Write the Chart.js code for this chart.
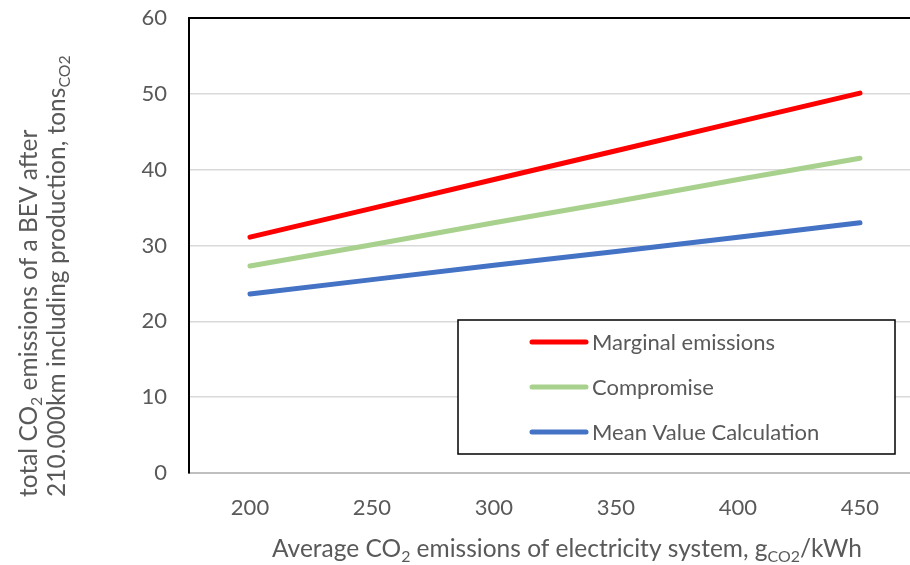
<!DOCTYPE html>
<html>
<head>
<meta charset="utf-8">
<script src="https://cdn.jsdelivr.net/npm/chart.js@4.4.1/dist/chart.umd.min.js"></script>
<style>
  html, body { margin: 0; padding: 0; background: #fff; overflow: hidden; }
</style>
</head>
<body>
<canvas id="chart" width="910" height="565"></canvas>
<script>
// electricity system average, g CO2 / kWh
const emissionLevels = [200, 250, 300, 350, 400, 450]
// total CO2 after 210.000 km incl. production, tons
const marginalEmissions = [31.1, 34.9, 38.7, 42.5, 46.3, 50.1]
const compromise = [27.3, 30.1, 33.0, 35.8, 38.7, 41.5]
const meanValueCalculation = [23.6, 25.5, 27.4, 29.2, 31.1, 33.0]
const yTicks = [0, 10, 20, 30, 40, 50, 60]

const FONT = 'Lato, "Open Sans", sans-serif'
const TEXT_COLOR = '#595959'

const toPoints = (values) => values.map((v, i) => ({ x: emissionLevels[i], y: v }))

// draws a string made of normal and subscript parts, left aligned at x
function drawRich(ctx, parts, x, y, size) {
    let cx = x
    parts.forEach(p => {
        const s = p.sub ? size * 0.65 : size
        ctx.font = `${s}px ${FONT}`
        ctx.fillText(p.t, cx, p.sub ? y + size * 0.22 : y)
        cx += ctx.measureText(p.t).width
    })
}

const axisTitles = {
    id: 'axisTitles',
    afterDraw(chart) {
        const ctx = chart.ctx
        ctx.save()
        ctx.fillStyle = TEXT_COLOR
        ctx.textBaseline = 'alphabetic'
        ctx.textAlign = 'left'

        drawRich(ctx, [
            { t: 'Average CO' }, { t: '2', sub: true },
            { t: ' emissions of electricity system, g' }, { t: 'CO2', sub: true },
            { t: '/kWh' }
        ], 272, 557, 24.5)

        ctx.translate(0, 497)
        ctx.rotate(-Math.PI / 2)
        drawRich(ctx, [
            { t: 'total CO' }, { t: '2', sub: true },
            { t: ' emissions of a BEV after' }
        ], 0, 37, 24.5)
        drawRich(ctx, [
            { t: '210.000km including production, tons' }, { t: 'CO2', sub: true }
        ], 0, 65, 24.5)
        ctx.restore()
    }
}

const frame = {
    id: 'frame',
    afterDatasetsDraw(chart) {
        const { ctx, chartArea } = chart
        ctx.save()
        ctx.strokeStyle = '#000'
        ctx.lineWidth = 2
        ctx.beginPath()
        ctx.moveTo(chartArea.left - 1, chartArea.top)
        ctx.lineTo(chartArea.right, chartArea.top)
        ctx.stroke()
        ctx.restore()
    }
}

const legendBox = {
    id: 'legendBox',
    afterDraw(chart) {
        const ctx = chart.ctx
        ctx.save()
        ctx.fillStyle = '#fff'
        ctx.fillRect(458, 320, 437, 134)
        ctx.strokeStyle = '#000'
        ctx.lineWidth = 1.5
        ctx.strokeRect(458, 320, 437, 134)
        ctx.font = `22px ${FONT}`
        ctx.textBaseline = 'middle'
        ctx.textAlign = 'left'
        chart.data.datasets.forEach((ds, i) => {
            const y = 342 + i * 45
            ctx.strokeStyle = ds.borderColor
            ctx.lineWidth = 5
            ctx.lineCap = 'round'
            ctx.beginPath()
            ctx.moveTo(532, y)
            ctx.lineTo(586, y)
            ctx.stroke()
            ctx.fillStyle = TEXT_COLOR
            ctx.fillText(ds.label, 592, y + 1)
        })
        ctx.restore()
    }
}

const ctx = document.getElementById('chart').getContext('2d')

new Chart(ctx, {
    type: 'line',
    data: {
        datasets: [
            {
                label: 'Marginal emissions',
                data: toPoints(marginalEmissions),
                borderColor: '#FF0000',
                borderWidth: 5
            },
            {
                label: 'Compromise',
                data: toPoints(compromise),
                borderColor: '#A9D18E',
                borderWidth: 5
            },
            {
                label: 'Mean Value Calculation',
                data: toPoints(meanValueCalculation),
                borderColor: '#4472C4',
                borderWidth: 5
            }
        ]
    },
    options: {
        responsive: false,
        animation: false,
        elements: {
            point: { radius: 0 },
            line: { borderCapStyle: 'round', borderJoinStyle: 'round', tension: 0 }
        },
        layout: { padding: { top: 18, right: 0, left: 0, bottom: 0 } },
        scales: {
            x: {
                type: 'linear',
                min: 175,
                max: 470.5,
                afterBuildTicks: (scale) => { scale.ticks = emissionLevels.map(v => ({ value: v })) },
                afterFit: (scale) => {
                    scale.height = 565 - 473
                    scale.paddingLeft = 0
                    scale.paddingRight = 0
                },
                grid: { display: false, drawTicks: false },
                border: { color: '#BFBFBF', width: 2 },
                ticks: {
                    color: TEXT_COLOR,
                    font: { family: FONT, size: 22 },
                    padding: 22,
                    maxRotation: 0
                }
            },
            y: {
                min: 0,
                max: 60,
                afterBuildTicks: (scale) => { scale.ticks = yTicks.map(v => ({ value: v })) },
                afterFit: (scale) => {
                    scale.width = 189
                    scale.paddingTop = 0
                    scale.paddingBottom = 0
                },
                grid: { color: '#D9D9D9', lineWidth: 1.5, drawTicks: false },
                border: { color: '#000', width: 2 },
                ticks: {
                    color: TEXT_COLOR,
                    font: { family: FONT, size: 22 },
                    padding: 22
                }
            }
        },
        plugins: {
            legend: { display: false },
            tooltip: { enabled: false }
        }
    },
    plugins: [frame, legendBox, axisTitles]
})
</script>
</body>
</html>
